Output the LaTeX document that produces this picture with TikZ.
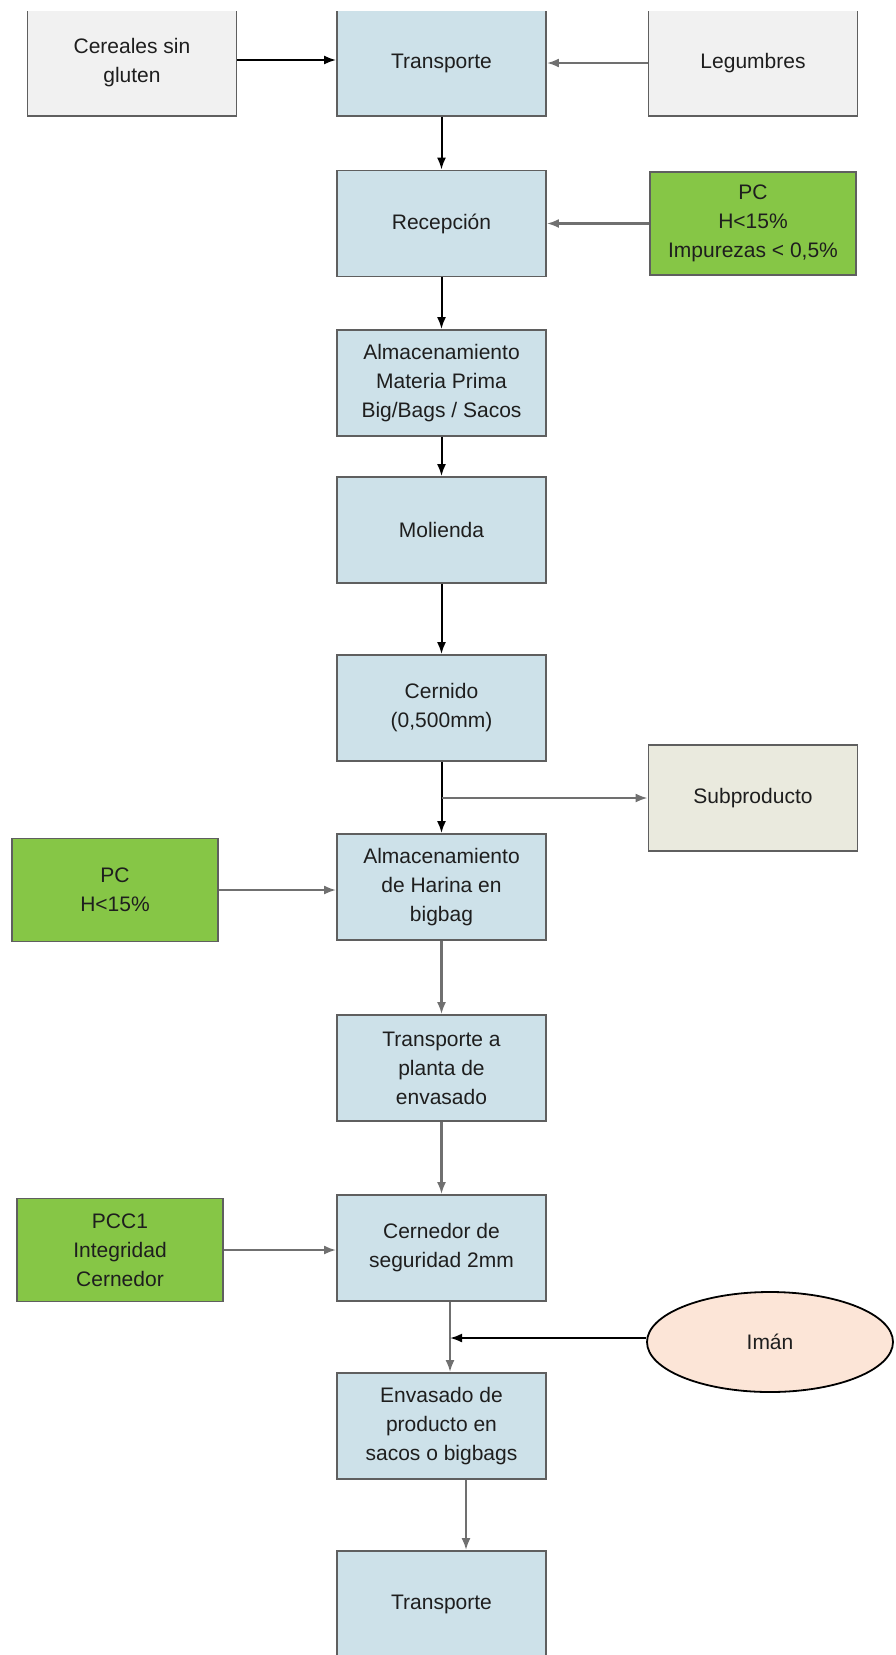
\documentclass[tikz,border=0pt]{standalone}
\usepackage{fontspec}
\setmainfont{Liberation Sans}
\usetikzlibrary{arrows.meta,shapes.geometric}

\definecolor{azul}{RGB}{205,225,233}
\definecolor{grisclaro}{RGB}{241,241,241}
\definecolor{beige}{RGB}{234,234,222}
\definecolor{verde}{RGB}{134,198,70}
\definecolor{melocoton}{RGB}{252,229,215}
\definecolor{borde}{RGB}{95,95,95}
\definecolor{flechagris}{RGB}{112,112,112}
\definecolor{texto}{RGB}{30,30,30}

\begin{document}
\begin{tikzpicture}[x=1pt,y=-1pt,
    caja/.style={draw=borde,line width=1.8pt,fill=azul,minimum width=209pt,minimum height=106pt,
                 align=center,text=texto,inner sep=2pt,font=\fontsize{21}{29}\selectfont},
    origen/.style={caja,fill=grisclaro},
    control/.style={caja,fill=verde,minimum width=206pt,minimum height=103pt},
    negro/.style={draw=black,line width=2pt,-{Latex[length=12pt,width=9pt]}},
    gris/.style={draw=flechagris,line width=2.2pt,-{Latex[length=12pt,width=9pt]}}]
    \useasboundingbox (0,0) rectangle (895,1655);
    \clip (0,11.5) rectangle (895,1655);

    % 绘制原料和运输
    \node[origen] (cereales) at (132,63) {Cereales sin\\gluten};
    \node[caja] (trans1) at (441.5,63) {Transporte};
    \node[origen] (legumbres) at (753,63) {Legumbres};

    % 绘制接收和储存
    \node[caja] (recep) at (441.5,223.5) {Recepción};
    \node[control] (pc1) at (753,223.5) {PC\\H<15\%\\Impurezas < 0,5\%};
    \node[caja] (almmp) at (441.5,383) {Almacenamiento\\Materia Prima\\Big/Bags / Sacos};
    \node[caja] (molienda) at (441.5,530) {Molienda};
    \node[caja] (cernido) at (441.5,708) {Cernido\\(0,500mm)};
    \node[caja,fill=beige] (subprod) at (753,798) {Subproducto};
    \node[caja] (almh) at (441.5,887) {Almacenamiento\\de Harina en\\bigbag};
    \node[control] (pc2) at (115,890) {PC\\H<15\%};

    % 绘制包装
    \node[caja] (transp) at (441.5,1068) {Transporte a\\planta de\\envasado};
    \node[caja] (cernedor) at (441.5,1248) {Cernedor de\\seguridad 2mm};
    \node[control] (pcc1) at (120,1250) {PCC1\\Integridad\\Cernedor};
    \node[ellipse,draw=black,line width=1.8pt,fill=melocoton,minimum width=246pt,minimum height=100pt,
          text=texto,font=\fontsize{21}{29}\selectfont] (iman) at (770,1342) {Imán};
    \node[caja] (envasado) at (441.5,1426) {Envasado de\\producto en\\sacos o bigbags};
    \node[caja] (trans2) at (441.5,1604) {Transporte};

    % 绘制连接线
    \draw[negro] ([yshift=3pt]cereales.east) -- ([yshift=3pt]trans1.west);
    \draw[gris] (legumbres) -- (trans1);
    \draw[negro] (trans1) -- (recep);
    \draw[gris] (pc1) -- (recep);
    \draw[negro] (recep) -- (almmp);
    \draw[negro] (almmp) -- (molienda);
    \draw[negro] (molienda) -- (cernido);
    \draw[negro] (cernido) -- (almh);
    \coordinate (rama) at (cernido.south |- subprod.west);
    \draw[gris] (rama) -- (subprod.west);
    \draw[gris] (pc2.east) -- (pc2.east -| almh.west);
    \draw[gris] (almh) -- (transp);
    \draw[gris] (transp) -- (cernedor);
    \draw[gris] (pcc1.east) -- (pcc1.east -| cernedor.west);
    \draw[gris] ([xshift=8.5pt]cernedor.south) -- ([xshift=8.5pt]envasado.north);
    \coordinate (imanfin) at ([xshift=8.5pt]cernedor.south |- 0,1338);
    \draw[negro] (iman.west |- imanfin) -- (imanfin);
    \draw[gris] ([xshift=24.5pt]envasado.south) -- ([xshift=24.5pt]trans2.north);
\end{tikzpicture}
\end{document}
